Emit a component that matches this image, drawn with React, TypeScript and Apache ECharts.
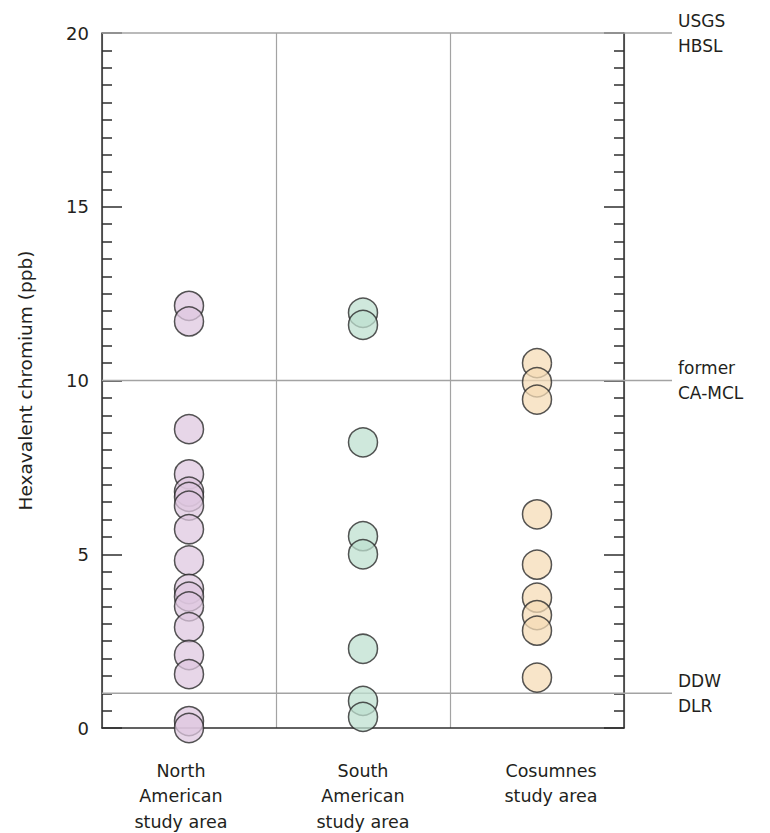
import React, { useEffect, useRef } from "react";
import * as echarts from "echarts";

const categories = ["North\nAmerican\nstudy area", "South\nAmerican\nstudy area", "Cosumnes\nstudy area"];
const northAmerican = [12.15, 11.7, 8.6, 7.3, 6.8, 6.65, 6.4, 5.72, 4.82, 4.0, 3.78, 3.5, 2.9, 2.1, 1.55, 0.2, 0.0];
const southAmerican = [11.95, 11.6, 8.22, 5.52, 5.0, 2.28, 0.78, 0.32];
const cosumnes = [10.5, 9.95, 9.45, 6.15, 4.7, 3.75, 3.25, 2.8, 1.45];
const seriesColors = ["rgba(222,200,224,0.92)", "rgba(190,224,207,0.92)", "rgba(245,220,182,0.92)"];
const thresholds = [20, 10, 1];
const thresholdLabels = ["USGS\nHBSL", "former\nCA-MCL", "DDW\nDLR"];
const yMin = 0;
const yMax = 20;
const yInterval = 5;

const FONT = "DejaVu Sans";
const TEXT = "#231f20";
const AXIS = "#2e2e2e";
const GREY = "#a3a3a3";

export default function App() {
  const ref = useRef<HTMLDivElement>(null);
  useEffect(() => {
    if (!ref.current) return;
    const chart = echarts.init(ref.current, undefined, { renderer: "svg" });
    const groups = [northAmerican, southAmerican, cosumnes];
    const yAxisCommon = {
      type: "value",
      gridIndex: 0,
      min: yMin,
      max: yMax,
      interval: yInterval,
      axisLine: { show: true, lineStyle: { color: AXIS, width: 1.5 } },
      axisTick: { show: true, inside: true, length: 20, lineStyle: { color: AXIS, width: 1.5 } },
      minorTick: { show: true, splitNumber: 10, length: 10, lineStyle: { color: AXIS, width: 1.5 } },
      splitLine: { show: false },
    };
    const rich: any = {};
    const pads = [[0, 16, 0, 0], [0, 0, 0, 0], [0, 0, 0, 28]];
    pads.forEach((p, i) => {
      rich["c" + i] = { fontSize: 17.5, lineHeight: 25.5, color: TEXT, fontFamily: FONT, padding: p };
    });
    chart.setOption({
      animation: false,
      grid: [
        { left: 102, right: 146, top: 33, bottom: 105 },
        { left: 102, right: 98, top: 33, bottom: 105 },
      ],
      xAxis: [
        {
          type: "category",
          gridIndex: 0,
          data: categories,
          boundaryGap: true,
          axisLine: { show: true, lineStyle: { color: AXIS, width: 1.5 } },
          axisTick: { show: false },
          splitLine: { show: true, lineStyle: { color: GREY, width: 1.2 } },
          axisLabel: {
            margin: 30,
            interval: 0,
            formatter: (v: string, i: number) =>
              v.split("\n").map((l) => `{c${i}|${l}}`).join("\n"),
            rich,
          },
        },
        { type: "value", gridIndex: 1, min: 0, max: 1, show: false },
      ],
      yAxis: [
        {
          ...yAxisCommon,
          position: "left",
          name: "Hexavalent chromium (ppb)",
          nameLocation: "middle",
          nameGap: 67,
          nameTextStyle: { fontSize: 18.5, color: TEXT, fontFamily: FONT },
          axisLabel: { show: true, margin: 13, fontSize: 18, color: TEXT, fontFamily: FONT },
        },
        {
          ...yAxisCommon,
          position: "right",
          axisLabel: { show: false },
        },
        { type: "value", gridIndex: 1, min: yMin, max: yMax, show: false },
      ],
      series: [
        ...thresholds.map((t, i) => ({
          type: "line",
          xAxisIndex: 1,
          yAxisIndex: 2,
          data: [[0, t], [1, t]],
          symbol: "none",
          silent: true,
          z: 1,
          clip: false,
          lineStyle: { color: GREY, width: 1.4 },
          endLabel: {
            show: true,
            formatter: () => thresholdLabels[i],
            distance: 6,
            fontSize: 17,
            lineHeight: 25,
            color: TEXT,
            fontFamily: FONT,
          },
        })),
        ...groups.map((g, i) => ({
          type: "scatter",
          xAxisIndex: 0,
          yAxisIndex: 0,
          data: g.map((v) => [i, v]),
          symbol: "circle",
          symbolSize: 29,
          clip: false,
          z: 5,
          itemStyle: { color: seriesColors[i], borderColor: "#2a2a2a", borderWidth: 1.5 },
        })),
      ],
    });
    return () => chart.dispose();
  }, []);
  return (
    <div
      ref={ref}
      style={{ position: "fixed", left: 0, top: 0, width: 770, height: 833, background: "#fff" }}
    />
  );
}
